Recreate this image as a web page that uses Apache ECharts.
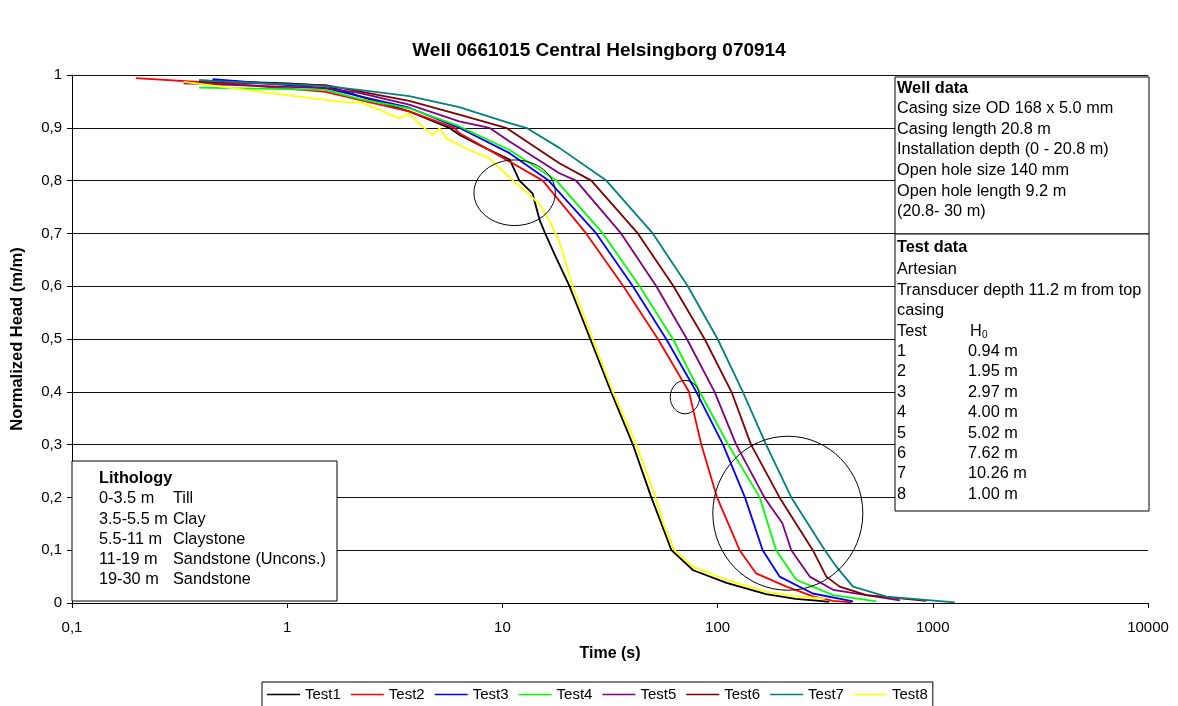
<!DOCTYPE html>
<html>
<head>
<meta charset="utf-8">
<script src="https://cdn.jsdelivr.net/npm/echarts@6/dist/echarts.min.js"></script>
<style>
  html, body { margin: 0; padding: 0; background: #fff; }
  #main { width: 1178px; height: 706px; }
</style>
</head>
<body>
<div id="main"></div>
<script>
// time (s) and normalized head (m/m) per test
var test1Time = [0.39, 1.0, 1.51, 2.16, 3.69, 5.67, 6.3, 8.0, 10.8, 12.0, 13.8, 14.9, 15.8, 17.5, 20.5, 25.6, 32.0, 40.4, 49.2, 54.7, 61, 77, 110, 168, 230, 298, 330];
var test1Head = [0.990, 0.984, 0.980, 0.960, 0.931, 0.90, 0.887, 0.865, 0.840, 0.80, 0.776, 0.725, 0.70, 0.66, 0.60, 0.50, 0.40, 0.30, 0.20, 0.151, 0.10, 0.062, 0.038, 0.017, 0.008, 0.004, 0.002];

var test2Time = [0.198, 0.6, 1.51, 2.16, 3.69, 5.98, 6.3, 10.8, 15.4, 24.5, 36.5, 52.8, 73.6, 84, 99.4, 126.6, 151, 209, 280, 344, 420];
var test2Head = [0.994, 0.982, 0.968, 0.953, 0.931, 0.90, 0.890, 0.836, 0.80, 0.70, 0.60, 0.50, 0.40, 0.30, 0.20, 0.10, 0.056, 0.031, 0.012, 0.004, 0.001];

var test3Time = [0.45, 1.51, 2.16, 3.69, 6.3, 10.8, 16.4, 27.3, 40.4, 57.7, 79.6, 106, 134, 162, 194, 277, 426];
var test3Head = [0.992, 0.975, 0.960, 0.938, 0.90, 0.852, 0.80, 0.70, 0.60, 0.50, 0.40, 0.30, 0.20, 0.10, 0.050, 0.018, 0.003];

var test4Time = [0.39, 1.51, 2.16, 3.69, 6.3, 10.8, 17.8, 29.3, 43.4, 62, 82.5, 112, 157, 187, 232, 344, 547];
var test4Head = [0.976, 0.972, 0.955, 0.937, 0.903, 0.858, 0.80, 0.70, 0.60, 0.50, 0.40, 0.30, 0.20, 0.10, 0.044, 0.015, 0.003];

var test5Time = [0.33, 1.51, 2.16, 3.69, 6.3, 8.7, 10.8, 18.4, 22.0, 35.6, 51.9, 72, 96.8, 122, 165, 200, 220, 268, 344, 703];
var test5Head = [0.984, 0.975, 0.966, 0.944, 0.912, 0.90, 0.874, 0.814, 0.80, 0.70, 0.60, 0.50, 0.40, 0.30, 0.20, 0.151, 0.10, 0.050, 0.025, 0.005];

var test6Time = [0.39, 1.51, 2.16, 3.69, 6.3, 10.4, 18.4, 25.9, 42.6, 62.4, 87, 116, 143, 194, 277, 320, 369, 492, 935];
var test6Head = [0.987, 0.981, 0.969, 0.951, 0.925, 0.90, 0.833, 0.80, 0.70, 0.60, 0.50, 0.40, 0.30, 0.20, 0.10, 0.050, 0.031, 0.015, 0.004];

var test7Time = [0.39, 1.51, 2.16, 3.69, 6.3, 10.8, 12.9, 18.4, 30.4, 50, 72.7, 100, 131, 168, 220, 315, 356, 426, 609, 1265];
var test7Head = [0.990, 0.979, 0.972, 0.960, 0.939, 0.909, 0.90, 0.862, 0.80, 0.70, 0.60, 0.50, 0.40, 0.30, 0.20, 0.10, 0.069, 0.031, 0.012, 0.001];

var test8Time = [0.33, 1.0, 1.88, 2.2, 3.32, 3.69, 4.05, 4.74, 5.1, 5.5, 7.0, 8.7, 11.2, 12.9, 14.9, 16.5, 18.4, 21.2, 26.3, 32.6, 41.9, 51.5, 56, 63, 76.8, 110, 168, 230, 298, 315];
var test8Head = [0.987, 0.962, 0.948, 0.948, 0.918, 0.927, 0.910, 0.886, 0.899, 0.880, 0.858, 0.842, 0.80, 0.779, 0.755, 0.725, 0.684, 0.60, 0.50, 0.40, 0.30, 0.20, 0.15, 0.10, 0.069, 0.044, 0.021, 0.013, 0.009, 0.008];

var testNames = ['Test1', 'Test2', 'Test3', 'Test4', 'Test5', 'Test6', 'Test7', 'Test8'];
var testColors = ['#000000', '#ff0000', '#0000ff', '#00ff00', '#800080', '#800000', '#008080', '#ffff00'];

var wellLines = ['Casing size OD 168 x 5.0 mm', 'Casing length 20.8 m', 'Installation depth (0 - 20.8 m)',
  'Open hole size 140 mm', 'Open hole length 9.2 m', '(20.8- 30 m)'];
var testInfoLines = ['Artesian', 'Transducer depth 11.2 m from top', 'casing'];
var testNumbers = ['1', '2', '3', '4', '5', '6', '7', '8'];
var testH0 = ['0.94 m', '1.95 m', '2.97 m', '4.00 m', '5.02 m', '7.62 m', '10.26 m', '1.00 m'];
var lithDepth = ['0-3.5 m', '3.5-5.5 m', '5.5-11 m', '11-19 m', '19-30 m'];
var lithType = ['Till', 'Clay', 'Claystone', 'Sandstone (Uncons.)', 'Sandstone'];

var FONT = '"Liberation Sans", Arial, sans-serif';
var BOXFONT = 16.3;

var allTime = [test1Time, test2Time, test3Time, test4Time, test5Time, test6Time, test7Time, test8Time];
var allHead = [test1Head, test2Head, test3Head, test4Head, test5Head, test6Head, test7Head, test8Head];

var myChart = echarts.init(document.getElementById('main'), null, {renderer: 'canvas'});

var series = [];
for (var i = 0; i < 8; i++) {
  var pts = [];
  for (var j = 0; j < allTime[i].length; j++) {
    pts.push([allTime[i][j], allHead[i][j]]);
  }
  series.push({
    name: testNames[i],
    type: 'line',
    symbol: 'none',
    data: pts,
    lineStyle: {color: testColors[i], width: 1.8},
    itemStyle: {color: testColors[i]},
    z: 2 + i
  });
}

var option = {
  animation: false,
  backgroundColor: '#fff',
  title: {
    text: 'Well 0661015 Central Helsingborg 070914',
    left: 594,
    textAlign: 'center',
    top: 36,
    textStyle: {fontFamily: FONT, fontSize: 19, fontWeight: 'bold', color: '#000'}
  },
  grid: {left: 72, right: 30, top: 75, bottom: 103},
  legend: {
    data: testNames,
    top: 682,
    left: 262,
    icon: 'rect',
    itemWidth: 33,
    itemHeight: 1.6,
    itemGap: 10,
    padding: [5, 5, 10, 5],
    borderColor: '#000',
    borderWidth: 1,
    textStyle: {fontFamily: FONT, fontSize: 15, color: '#000'}
  },
  xAxis: {
    type: 'log',
    logBase: 10,
    min: 0.1,
    max: 10000,
    name: 'Time (s)',
    nameLocation: 'middle',
    nameGap: 43,
    nameTextStyle: {fontFamily: FONT, fontSize: 16, fontWeight: 'bold', color: '#000'},
    axisLine: {lineStyle: {color: '#000', width: 1}},
    axisTick: {show: true, length: 5, lineStyle: {color: '#000'}},
    splitLine: {show: false},
    minorTick: {show: false},
    axisLabel: {
      fontFamily: FONT, fontSize: 15, color: '#000', margin: 17,
      formatter: function (v) {
        return v < 1 ? v.toFixed(1).replace('.', ',') : String(Math.round(v));
      }
    }
  },
  yAxis: {
    type: 'value',
    min: 0,
    max: 1,
    interval: 0.1,
    name: 'Normalized Head (m/m)',
    nameLocation: 'middle',
    nameGap: 46,
    nameTextStyle: {fontFamily: FONT, fontSize: 16.5, fontWeight: 'bold', color: '#000'},
    axisLine: {show: true, lineStyle: {color: '#000', width: 1}},
    axisTick: {show: true, length: 5, inside: false, lineStyle: {color: '#000'}},
    splitLine: {show: true, lineStyle: {color: '#111', width: 1}},
    axisLabel: {
      fontFamily: FONT, fontSize: 15, color: '#000', margin: 10,
      formatter: function (v) {
        if (v === 0 || v === 1) return String(v);
        return v.toFixed(1).replace('.', ',');
      }
    }
  },
  series: series
};

myChart.setOption(option);

// text boxes and the hand drawn circles
function txt(x, y, s, bold, size) {
  return {
    type: 'text', x: x, y: y, z: 30,
    style: {text: s, fill: '#000', font: (bold ? 'bold ' : '') + (size || BOXFONT) + 'px ' + FONT,
      textVerticalAlign: 'middle', textAlign: 'left'}
  };
}

var els = [];
els.push({type: 'rect', z: 20, shape: {x: 895, y: 77, width: 254, height: 157}, style: {fill: '#fff', stroke: '#000', lineWidth: 1}});
els.push({type: 'rect', z: 20, shape: {x: 895, y: 234, width: 254, height: 277}, style: {fill: '#fff', stroke: '#000', lineWidth: 1}});
els.push({type: 'rect', z: 20, shape: {x: 72, y: 461, width: 265, height: 140}, style: {fill: '#fff', stroke: '#000', lineWidth: 1}});

els.push(txt(897, 88.3, 'Well data', true));
for (var k = 0; k < wellLines.length; k++) els.push(txt(897, 88.3 + (k + 1) * 20.55, wellLines[k]));

els.push(txt(897, 248, 'Test data', true));
for (var k = 0; k < testInfoLines.length; k++) els.push(txt(897, 269.9 + k * 20.4, testInfoLines[k]));
els.push(txt(897, 331.1, 'Test'));
els.push(txt(970, 331.1, 'H'));
els.push(txt(982, 335.5, '0', false, 10));
for (var k = 0; k < testNumbers.length; k++) {
  els.push(txt(897, 351.5 + k * 20.4, testNumbers[k]));
  els.push(txt(968, 351.5 + k * 20.4, testH0[k]));
}

els.push(txt(99, 479, 'Lithology', true));
for (var k = 0; k < lithDepth.length; k++) {
  els.push(txt(99, 499 + k * 20.06, lithDepth[k]));
  els.push(txt(173, 499 + k * 20.06, lithType[k]));
}

// circles: centres in data coords, radii in px
var rings = [[11.4, 0.777, 40.7, 32.8], [70.5, 0.390, 14.7, 16.7], [212, 0.170, 75, 77]];
for (var r = 0; r < rings.length; r++) {
  var c = myChart.convertToPixel({gridIndex: 0}, [rings[r][0], rings[r][1]]);
  els.push({type: 'ellipse', z: 25, shape: {cx: c[0], cy: c[1], rx: rings[r][2], ry: rings[r][3]},
    style: {fill: 'none', stroke: '#000', lineWidth: 1}});
}

myChart.setOption({graphic: {elements: els}});
</script>
</body>
</html>
